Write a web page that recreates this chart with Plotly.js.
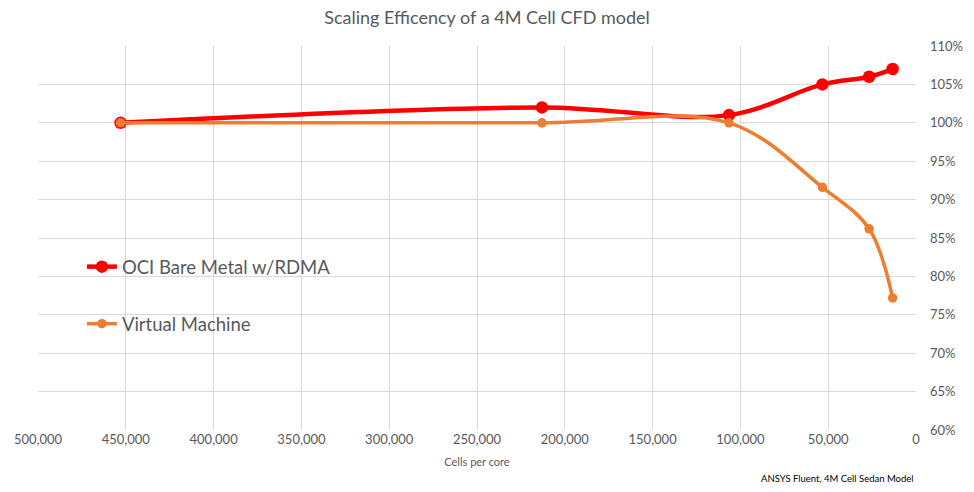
<!DOCTYPE html>
<html>
<head>
<meta charset="utf-8">
<script src="https://cdn.plot.ly/plotly-3.0.1.min.js"></script>
<style>html,body{margin:0;padding:0;background:#fff;}#chart{width:974px;height:492px;}</style>
</head>
<body>
<div id="chart"></div>
<script>
const cellsPerCore = [453000, 213000, 106500, 53300, 26700, 13300];
const bareMetal = [1.00, 1.02, 1.01, 1.05, 1.06, 1.07];
const virtualMachine = [1.00, 1.00, 1.00, 0.916, 0.862, 0.772];
const seriesNames = ["OCI Bare Metal w/RDMA", "Virtual Machine"];
const xTickVals = [500000, 450000, 400000, 350000, 300000, 250000, 200000, 150000, 100000, 50000, 0];
const yTickVals = [0.60, 0.65, 0.70, 0.75, 0.80, 0.85, 0.90, 0.95, 1.00, 1.05, 1.10];

const font = "Lato, 'Open Sans', sans-serif";
const traces = [
  {
    x: cellsPerCore, y: bareMetal, name: seriesNames[0], legendgroup: "a",
    mode: "lines+markers", line: {color: "#ff0000", width: 4.5, shape: "spline", smoothing: 1},
    marker: {color: "#ff0000", size: 12.5}
  },
  {
    x: cellsPerCore, y: virtualMachine, name: seriesNames[1], legendgroup: "b",
    mode: "lines+markers", line: {color: "#ed7d31", width: 3.5, shape: "spline", smoothing: 1},
    marker: {color: "#ed7d31", size: 9.5}
  }
];
const layout = {
  width: 974, height: 492,
  margin: {l: 38, r: 58, t: 46, b: 62},
  paper_bgcolor: "#fff", plot_bgcolor: "#fff",
  font: {family: font, color: "#595959", size: 13},
  title: {text: "Scaling Efficency of a 4M Cell CFD model", x: 0.5, xanchor: "center", y: 0.965, yanchor: "middle", font: {size: 18, color: "#595959", family: font}},
  xaxis: {
    range: [500000, 0], tickvals: xTickVals, tickformat: ",", showgrid: true, gridcolor: "#d9d9d9", gridwidth: 1,
    zeroline: false, showline: false, ticks: "", tickfont: {size: 13, color: "#595959"},
    title: {text: "Cells per core", font: {size: 11, color: "#595959"}, standoff: 12}
  },
  yaxis: {
    side: "right", range: [0.6, 1.1], tickvals: yTickVals, tickformat: ".0%", showgrid: true, gridcolor: "#d9d9d9",
    zeroline: false, showline: false, ticks: "", ticklabelstandoff: 13, tickfont: {size: 13, color: "#595959"}
  },
  showlegend: true,
  legend: {x: 0.05, y: 0.35, xanchor: "left", yanchor: "middle", bgcolor: "rgba(0,0,0,0)", font: {size: 18.5, color: "#595959", family: font}, tracegroupgap: 30, itemwidth: 30},
  annotations: [
    {text: "ANSYS Fluent, 4M Cell Sedan Model", xref: "paper", yref: "paper", x: 1.0, y: -0.125, xanchor: "right", yanchor: "middle", showarrow: false, font: {size: 9.5, color: "#000", family: font}}
  ]
};
Plotly.newPlot("chart", traces, layout, {displayModeBar: false, staticPlot: true});
</script>
</body>
</html>
